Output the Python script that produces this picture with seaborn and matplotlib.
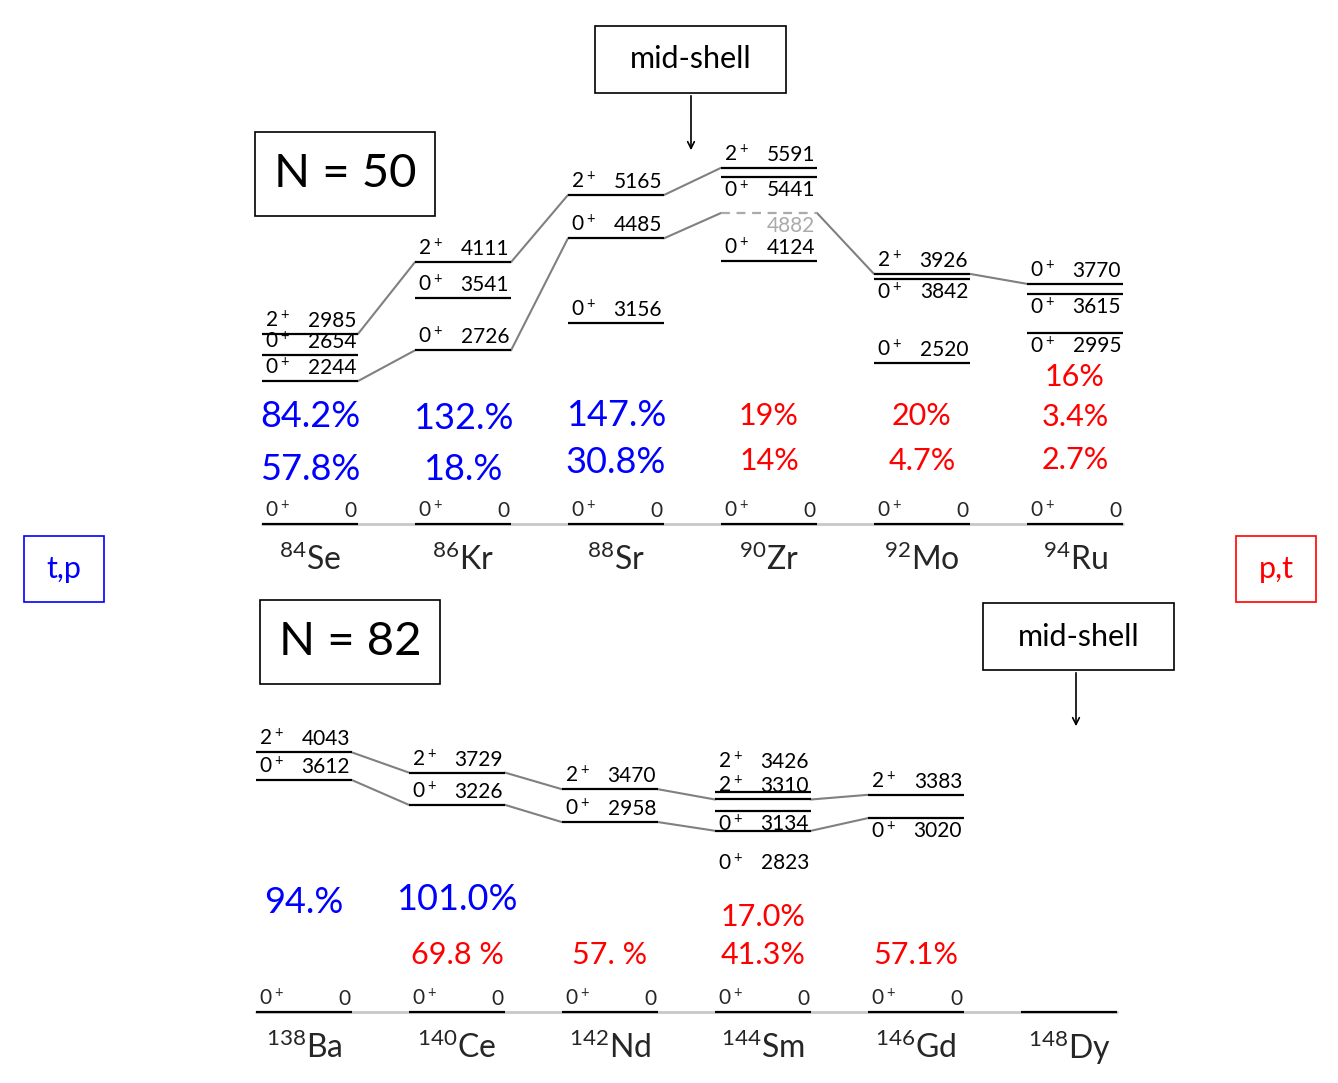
import matplotlib
matplotlib.use("Agg")
import matplotlib.pyplot as plt
import seaborn as sns
from matplotlib.patches import Rectangle

sns.set_theme(style="white")
plt.rcParams['font.family'] = ['Lato', 'DejaVu Sans']
plt.rcParams['mathtext.default'] = 'regular'

BLUE, RED = "#0000ff", "#ff0000"

# ---------- data: N = 50 ----------
top_mass = [84, 86, 88, 90, 92, 94]
top_sym = ["Se", "Kr", "Sr", "Zr", "Mo", "Ru"]
top_lvl_nuc = [0, 0, 0, 1, 1, 1, 2, 2, 2, 3, 3, 3, 3, 4, 4, 4, 5, 5, 5]
top_lvl_E = [2244, 2654, 2985, 2726, 3541, 4111, 3156, 4485, 5165,
             4124, 4882, 5441, 5591, 2520, 3842, 3926, 2995, 3615, 3770]
top_lvl_spin = ["0", "0", "2", "0", "0", "2", "0", "0", "2",
                "0", "", "0", "2", "0", "0", "2", "0", "0", "0"]
top_lvl_pos = ["a", "a", "a", "a", "a", "a", "a", "a", "a",
               "a", "b", "b", "a", "a", "b", "a", "b", "b", "a"]
top_lvl_dashed = [False] * 10 + [True] + [False] * 8
top_links_upper = [(0, 2985), (1, 4111), (2, 5165), (3, 5591)]
top_links_lower = [(0, 2244), (1, 2726), (2, 4485), (3, 4882), (4, 3926), (5, 3770)]
top_pct_nuc = [0, 0, 1, 1, 2, 2, 3, 3, 4, 4, 5, 5, 5]
top_pct_txt = ["84.2%", "57.8%", "132.%", "18.%", "147.%", "30.8%",
               "19%", "14%", "20%", "4.7%", "16%", "3.4%", "2.7%"]
top_pct_y = [1680, 863, 1650, 863, 1711, 958, 1695, 990, 1695, 990, 2308, 1680, 1005]
top_pct_col = [BLUE] * 6 + [RED] * 7

# ---------- data: N = 82 ----------
bot_mass = [138, 140, 142, 144, 146, 148]
bot_sym = ["Ba", "Ce", "Nd", "Sm", "Gd", "Dy"]
bot_lvl_nuc = [0, 0, 1, 1, 2, 2, 3, 3, 3, 3, 4, 4]
bot_lvl_E = [3612, 4043, 3226, 3729, 2958, 3470, 2823, 3134, 3310, 3426, 3020, 3383]
bot_lvl_spin = ["0", "2", "0", "2", "0", "2", "0", "0", "2", "2", "0", "2"]
bot_lvl_pos = ["a", "a", "a", "a", "a", "a", "b2", "b", "a", "a2", "b", "a"]
bot_links_upper = [(0, 4043), (1, 3729), (2, 3470), (3, 3310), (4, 3383)]
bot_links_lower = [(0, 3612), (1, 3226), (2, 2958), (3, 2823), (4, 3020)]
bot_ground = [True, True, True, True, True, False]
bot_pct_nuc = [0, 1, 1, 2, 3, 3, 4]
bot_pct_txt = ["94.%", "101.0%", "69.8 %", "57. %", "17.0%", "41.3%", "57.1%"]
bot_pct_y = [1713, 1745, 888, 888, 1480, 888, 888]
bot_pct_col = [BLUE, BLUE, RED, RED, RED, RED, RED]

W, H = 1338, 1083
fig = plt.figure(figsize=(W / 100, H / 100), dpi=100)
HW = 0.314


def make_axes(x0px, zero_px, scale, top_px, bot_px):
    ax = fig.add_axes([0, 1 - bot_px / H, 1, (bot_px - top_px) / H])
    ax.set_xlim(-x0px / 153, (W - x0px) / 153)
    ax.set_ylim(-(bot_px - zero_px) / scale, (zero_px - top_px) / scale)
    ax.axis("off")
    return ax


def level_label(ax, i, E, spin, pos, grey=False):
    col = "#aaaaaa" if grey else "black"
    if pos.startswith("a"):
        off, va = (3 if pos == "a" else 20), "bottom"
    else:
        off, va = (-3 if pos == "b" else -22), "top"
    if spin:
        ax.annotate(f"{spin}$^+$", (i - HW, E), xytext=(3, off), textcoords="offset pixels",
                    ha="left", va=va, fontsize=15, color=col)
    ax.annotate(f"{E}", (i + HW, E), xytext=(-2, off), textcoords="offset pixels",
                ha="right", va=va, fontsize=15, color=col)


def draw_panel(ax, mass, sym, nuc, Es, spins, poss, links_u, links_l, ground, dashed,
               pn, pt, py, pc):
    n = len(mass)
    ax.plot([-HW, n - 1 + HW], [0, 0], color="#c8c8c8", lw=2, zorder=1)
    for i in range(n):
        if ground[i]:
            ax.hlines(0, i - HW, i + HW, color="black", lw=1.6, zorder=2)
            ax.annotate("0$^+$", (i - HW, 0), xytext=(3, 3), textcoords="offset pixels",
                        ha="left", va="bottom", fontsize=15)
            ax.annotate("0", (i + HW, 0), xytext=(-2, 3), textcoords="offset pixels",
                        ha="right", va="bottom", fontsize=15)
        else:
            ax.hlines(0, i - HW, i + HW, color="black", lw=1.6, zorder=2)
        ax.annotate(f"$^{{{mass[i]}}}${sym[i]}", (i, 0), xytext=(0, -36),
                    textcoords="offset pixels", ha="center", va="center", fontsize=23)
    for i, E, s, p, d in zip(nuc, Es, spins, poss, dashed):
        if d:
            ax.hlines(E, i - HW, i + HW, color="#aaaaaa", lw=1.6, ls=(0, (4, 3)), zorder=2)
        else:
            ax.hlines(E, i - HW, i + HW, color="black", lw=1.6, zorder=2)
        level_label(ax, i, E, s, p, grey=d)
    for links in (links_u, links_l):
        for (i1, e1), (i2, e2) in zip(links[:-1], links[1:]):
            ax.plot([i1 + HW, i2 - HW], [e1, e2], color="#808080", lw=1.5, zorder=1)
    for i, t, y, c in zip(pn, pt, py, pc):
        ax.text(i, y, t, ha="center", va="center", color=c,
                fontsize=26 if c == BLUE else 22)


ax1 = make_axes(310, 524, 0.0637, 0, 541)
draw_panel(ax1, top_mass, top_sym, top_lvl_nuc, top_lvl_E, top_lvl_spin, top_lvl_pos,
           top_links_upper, top_links_lower, [True] * 6, top_lvl_dashed,
           top_pct_nuc, top_pct_txt, top_pct_y, top_pct_col)

ax2 = make_axes(304, 1012, 0.0642, 541, H)
draw_panel(ax2, bot_mass, bot_sym, bot_lvl_nuc, bot_lvl_E, bot_lvl_spin, bot_lvl_pos,
           bot_links_upper, bot_links_lower, bot_ground, [False] * len(bot_lvl_E),
           bot_pct_nuc, bot_pct_txt, bot_pct_y, bot_pct_col)

# overlay for boxes
ov = fig.add_axes([0, 0, 1, 1], facecolor="none")
ov.set_xlim(0, W)
ov.set_ylim(H, 0)
ov.axis("off")


def box(x0, y0, x1, y1, txt, fs, col="black"):
    ov.add_patch(Rectangle((x0, y0), x1 - x0, y1 - y0, fill=False, ec=col, lw=1.2))
    ov.text((x0 + x1) / 2, (y0 + y1) / 2, txt, ha="center", va="center", fontsize=fs, color=col)


box(255, 132, 435, 216, "N = 50", 34)
box(260, 600, 440, 684, "N = 82", 34)
box(595, 26, 786, 93, "mid-shell", 22)
box(983, 603, 1174, 670, "mid-shell", 22)
box(24, 536, 104, 602, "t,p", 22, BLUE)
box(1236, 536, 1316, 602, "p,t", 22, RED)
ov.annotate("", xy=(691, 153), xytext=(691, 93),
            arrowprops=dict(arrowstyle="->", color="black", lw=1.2))
ov.annotate("", xy=(1076, 729), xytext=(1076, 670),
            arrowprops=dict(arrowstyle="->", color="black", lw=1.2))

fig.savefig("out.png", dpi=100)
